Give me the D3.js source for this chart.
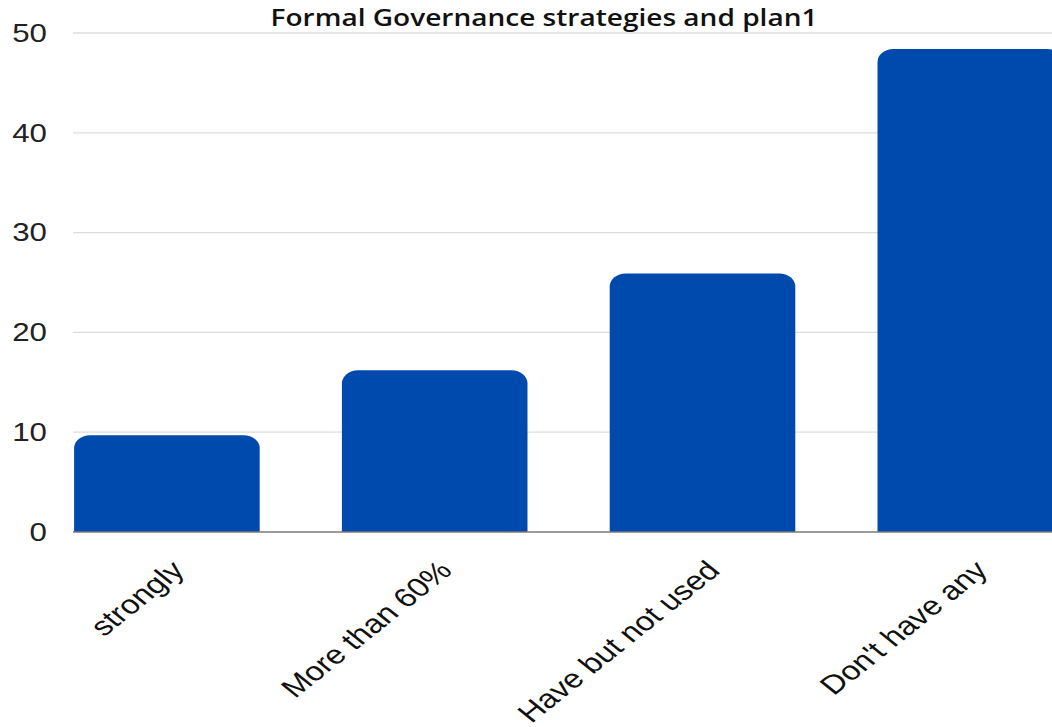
<!DOCTYPE html>
<html>
<head>
<meta charset="utf-8">
<script src="https://cdn.jsdelivr.net/npm/d3@7"></script>
<style>
  html, body { margin: 0; padding: 0; background: #ffffff; }
  svg { display: block; }
</style>
</head>
<body>
<svg id="chart" width="1052" height="727"></svg>
<script>
// Chart data
const title = "Formal Governance strategies and plan1";
const categories = ["strongly", "More than 60%", "Have but not used", "Don't have any"];
const values = [9.7, 16.2, 25.9, 48.4];
const yTicks = [0, 10, 20, 30, 40, 50];

const W = 1052, H = 727;
const svg = d3.select("#chart");

// Text is drawn wide (horizontal stretch) to suit the chart's proportions
const SX = 1.25;

const plotLeft = 73, plotRight = W;
const y = d3.scaleLinear().domain([0, 50]).range([532, 33]);
const x = d3.scaleBand()
  .domain(categories)
  .range([33, 1104.2])
  .paddingInner(0.307)
  .paddingOuter(0.1535);

// Gridlines
svg.append("g")
  .selectAll("line")
  .data(yTicks.filter(d => d > 0))
  .join("line")
  .attr("x1", plotLeft).attr("x2", plotRight)
  .attr("y1", d => y(d)).attr("y2", d => y(d))
  .attr("stroke", "#dcdcdc")
  .attr("stroke-width", 1.3);

// Y tick labels
svg.append("g")
  .selectAll("text")
  .data(yTicks)
  .join("text")
  .attr("transform", d => `translate(47,${y(d)}) scale(${SX},1)`)
  .attr("text-anchor", "end")
  .attr("dominant-baseline", "central")
  .attr("font-family", "Liberation Sans, Arial, sans-serif")
  .attr("font-size", 25)
  .attr("fill", "#222")
  .text(d => d);

// Bars with rounded top corners
function barPath(x0, w, yTop, yBase, rx, ry) {
  const h = yBase - yTop;
  ry = Math.min(ry, h);
  return `M${x0},${yBase}` +
    `L${x0},${yTop + ry}` +
    `A${rx},${ry} 0 0 1 ${x0 + rx},${yTop}` +
    `L${x0 + w - rx},${yTop}` +
    `A${rx},${ry} 0 0 1 ${x0 + w},${yTop + ry}` +
    `L${x0 + w},${yBase}Z`;
}

svg.append("g")
  .selectAll("path")
  .data(categories.map((c, i) => ({ c, v: values[i] })))
  .join("path")
  .attr("d", d => barPath(x(d.c), x.bandwidth(), y(d.v), y(0), 16, 13))
  .attr("fill", "#004aad");

// Baseline
svg.append("line")
  .attr("x1", plotLeft).attr("x2", plotRight)
  .attr("y1", y(0)).attr("y2", y(0))
  .attr("stroke", "#7a7a7a")
  .attr("stroke-width", 1.5);

// X category labels, slanted
svg.append("g")
  .selectAll("text")
  .data(categories)
  .join("text")
  .attr("transform", d => `translate(${x(d) + x.bandwidth() / 2 + 19},572) scale(${SX},1) rotate(-45)`)
  .attr("text-anchor", "end")
  .attr("font-family", "Liberation Sans, Arial, sans-serif")
  .attr("font-size", 26.5)
  .attr("fill", "#111")
  .text(d => d);

// Title
svg.append("text")
  .attr("x", 544)
  .attr("y", 26)
  .attr("text-anchor", "middle")
  .attr("font-family", "Open Sans, sans-serif")
  .attr("font-weight", 600)
  .attr("font-size", 22.5)
  .attr("textLength", 547)
  .attr("lengthAdjust", "spacingAndGlyphs")
  .attr("fill", "#111")
  .text(title);
</script>
</body>
</html>
